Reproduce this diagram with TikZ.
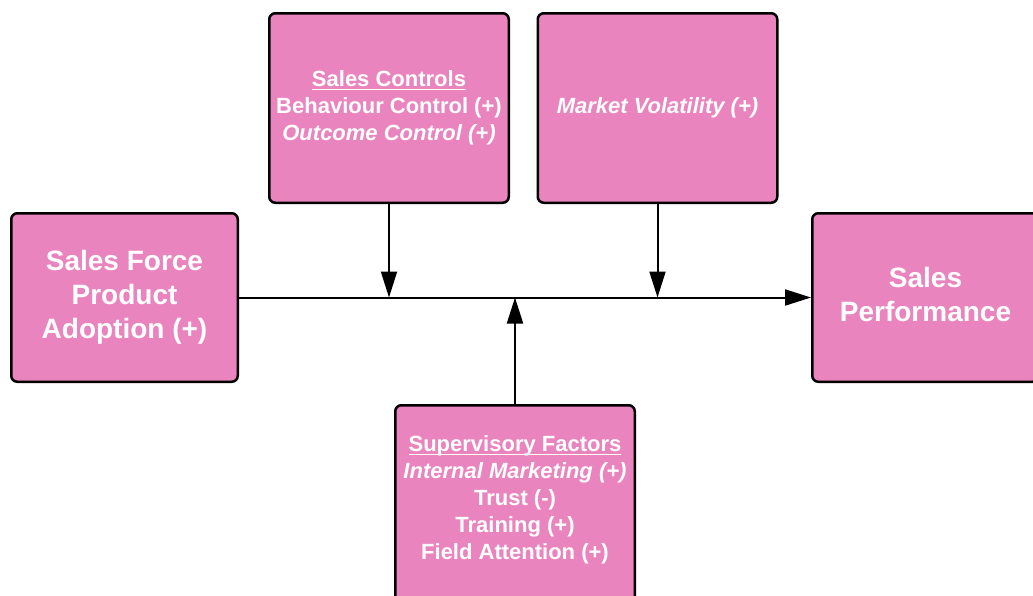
\documentclass[tikz,border=0pt]{standalone}
\usepackage{fontspec}
\setmainfont{Liberation Sans}
\usetikzlibrary{arrows.meta}

\definecolor{boxpink}{RGB}{234,132,190}

% underlined heading line inside a box
\newsavebox{\hdrbox}
\newcommand{\hdrline}[1]{\sbox{\hdrbox}{#1}\rlap{\rule[-3.8pt]{\wd\hdrbox}{1.3pt}}\usebox{\hdrbox}}

\tikzset{
  factor/.style={draw=black, fill=boxpink, line width=2.5pt, rounded corners=6pt,
    text=white, align=center, minimum width=239.5pt, minimum height=189.5pt,
    font=\fontsize{22}{27}\selectfont\bfseries},
  construct/.style={factor, minimum width=226.5pt, minimum height=168.5pt,
    font=\fontsize{28}{34}\selectfont\bfseries},
  link/.style={line width=2pt, -{Triangle[length=26pt,width=16pt]}},
}

\begin{document}
\begin{tikzpicture}[x=1pt, y=-1pt]
  \useasboundingbox (0,0) rectangle (1033,595);

  % main constructs
  \node[construct] (adopt) at (124.5,297.5) {Sales Force\\Product\\Adoption (+)};
  \node[construct, text depth=6pt] (perf) at (925.5,297.5) {Sales\\Performance};

  % moderators
  \node[factor] (ctrl) at (389,108)
    {\hdrline{Sales Controls}\\Behaviour Control (+)\\\textit{Outcome Control (+)}};
  \node[factor] (vol) at (657.5,108) {\textit{Market Volatility (+)}};
  % runs off the bottom edge, empty last line keeps the text up
  \node[factor, minimum height=211.5pt] (sup) at (515,511)
    {\hdrline{Supervisory Factors}\\\textit{Internal Marketing (+)}\\Trust (-)\\Training (+)\\Field Attention (+)\\\mbox{}};

  % where the moderators hit the main path
  \coordinate (m1) at (ctrl.south |- adopt.east);
  \coordinate (m2) at (vol.south |- adopt.east);
  \coordinate (m3) at (sup.north |- adopt.east);

  \draw[link] (adopt.east) -- (perf.west);
  \draw[link] (ctrl.south) -- (m1);
  \draw[link] (vol.south) -- (m2);
  \draw[link] (sup.north) -- (m3);
\end{tikzpicture}
\end{document}
